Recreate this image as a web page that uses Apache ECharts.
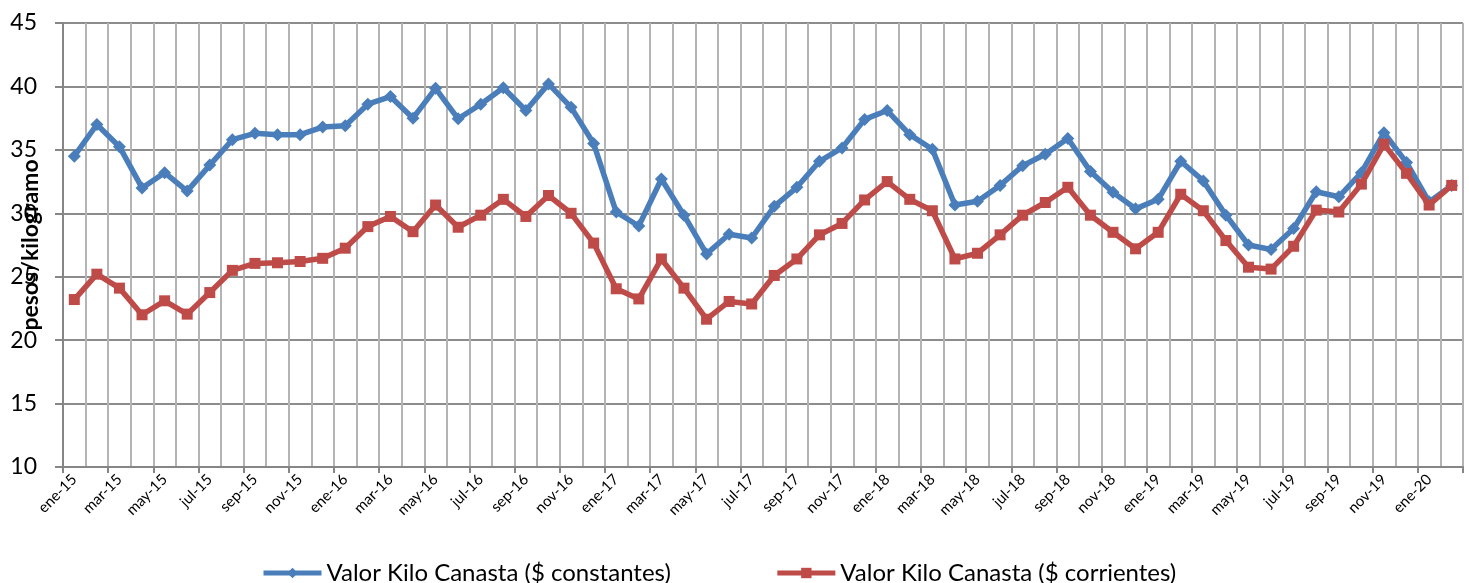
<!DOCTYPE html>
<html>
<head>
<meta charset="utf-8">
<script src="https://cdn.jsdelivr.net/npm/echarts@6/dist/echarts.min.js"></script>
<style>
html,body{margin:0;padding:0;background:#fff;}
#chart{width:1469px;height:583px;}
</style>
</head>
<body>
<div id="chart"></div>
<script>
const categories = [
 'ene-15','feb-15','mar-15','abr-15','may-15','jun-15','jul-15','ago-15','sep-15','oct-15','nov-15','dic-15',
 'ene-16','feb-16','mar-16','abr-16','may-16','jun-16','jul-16','ago-16','sep-16','oct-16','nov-16','dic-16',
 'ene-17','feb-17','mar-17','abr-17','may-17','jun-17','jul-17','ago-17','sep-17','oct-17','nov-17','dic-17',
 'ene-18','feb-18','mar-18','abr-18','may-18','jun-18','jul-18','ago-18','sep-18','oct-18','nov-18','dic-18',
 'ene-19','feb-19','mar-19','abr-19','may-19','jun-19','jul-19','ago-19','sep-19','oct-19','nov-19','dic-19',
 'ene-20','feb-20'
];
const constantes = [
 34.5,37.0,35.25,32.0,33.2,31.75,33.8,35.8,36.3,36.2,36.2,36.8,
 36.9,38.6,39.2,37.5,39.85,37.45,38.6,39.9,38.1,40.2,38.35,35.5,
 30.1,29.0,32.7,29.85,26.8,28.35,28.05,30.55,32.05,34.1,35.15,37.4,
 38.1,36.2,35.05,30.65,30.95,32.2,33.75,34.65,35.9,33.3,31.65,30.35,
 31.1,34.1,32.55,29.85,27.5,27.15,28.8,31.7,31.3,33.2,36.35,34.0,
 30.9,32.2
];
const corrientes = [
 23.2,25.2,24.1,22.0,23.1,22.05,23.75,25.5,26.05,26.1,26.2,26.45,
 27.25,28.95,29.75,28.55,30.65,28.9,29.85,31.1,29.75,31.4,30.0,27.65,
 24.05,23.25,26.4,24.1,21.65,23.05,22.85,25.1,26.4,28.3,29.2,31.05,
 32.5,31.1,30.2,26.4,26.85,28.3,29.85,30.85,32.05,29.85,28.5,27.2,
 28.5,31.5,30.2,27.85,25.75,25.6,27.4,30.25,30.1,32.3,35.45,33.15,
 30.65,32.2
];
const seriesNames = ['Valor Kilo Canasta ($ constantes)','Valor Kilo Canasta ($ corrientes)'];
const yTitle = 'pesos/kilogramo';

const FONT = 'Lato';
const chart = echarts.init(document.getElementById('chart'), null, {renderer:'canvas'});
chart.setOption({
  animation:false,
  backgroundColor:'#ffffff',
  textStyle:{fontFamily:FONT,color:'#000'},
  grid:{left:63,right:6,top:23,bottom:116,containLabel:false,outerBoundsMode:'none'},
  legend:{
    top:556,left:256,
    itemWidth:58,itemHeight:13,itemGap:104,
    textStyle:{fontFamily:FONT,fontSize:24,color:'#000'},
    lineStyle:{width:5},
    data:seriesNames
  },
  xAxis:{
    type:'category',
    data:categories,
    boundaryGap:true,
    axisLine:{lineStyle:{color:'#868686',width:2}},
    axisTick:{show:true,interval:1,length:6,lineStyle:{color:'#868686',width:2}},
    axisLabel:{interval:1,rotate:45,fontSize:15,color:'#000',fontFamily:FONT,margin:10},
    splitLine:{show:true,interval:0,lineStyle:{color:'#b4b4b4',width:2}}
  },
  yAxis:{
    type:'value',
    min:10,max:45,interval:5,
    name:yTitle,
    nameLocation:'middle',
    nameGap:21,
    nameMoveOverlap:false,
    nameTextStyle:{fontFamily:FONT,fontWeight:'bold',fontSize:23,color:'#000'},
    axisLine:{show:true,lineStyle:{color:'#868686',width:2}},
    axisTick:{show:true,length:8,lineStyle:{color:'#868686',width:2}},
    axisLabel:{fontSize:23,color:'#000',fontFamily:FONT,margin:26},
    splitLine:{show:true,lineStyle:{color:'#8c8c8c',width:2}}
  },
  series:[
    {
      name:seriesNames[0],type:'line',data:constantes,
      symbol:'diamond',symbolSize:13,
      lineStyle:{color:'#4a7ebb',width:5.5},
      itemStyle:{color:'#4a7ebb'},
      z:3
    },
    {
      name:seriesNames[1],type:'line',data:corrientes,
      symbol:'rect',symbolSize:11,
      lineStyle:{color:'#be4b48',width:5.5},
      itemStyle:{color:'#be4b48'},
      z:4
    }
  ]
});
</script>
</body>
</html>
